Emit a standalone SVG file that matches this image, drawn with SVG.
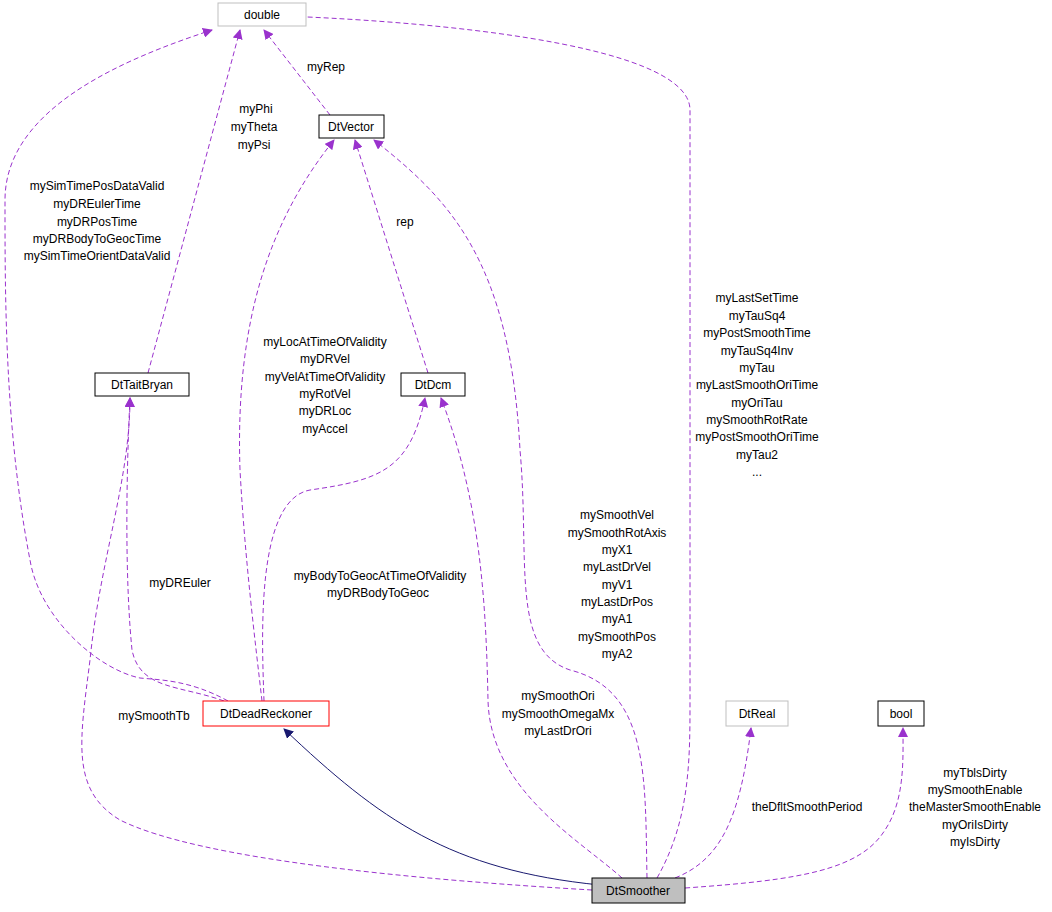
<svg xmlns="http://www.w3.org/2000/svg" width="1052" height="912" viewBox="0 0 1052 912">
<style>
text{font-family:"Liberation Sans",Arial,sans-serif;font-size:12px;fill:#000;text-anchor:middle}
.n{fill:#fff;stroke:#000;stroke-width:1}
.g{fill:#fff;stroke:#bfbfbf;stroke-width:1}
.e{fill:none;stroke:#9a32cd;stroke-width:1;stroke-dasharray:5,3;marker-end:url(#p)}
.s{fill:none;stroke:#191970;stroke-width:1;marker-end:url(#b)}
</style>
<defs>
<marker id="p" viewBox="0 0 10 10" refX="9" refY="5" markerWidth="10" markerHeight="10" markerUnits="userSpaceOnUse" orient="auto"><path d="M0,0L10,5L0,10z" fill="#9a32cd"/></marker>
<marker id="b" viewBox="0 0 10 10" refX="9" refY="5" markerWidth="10" markerHeight="10" markerUnits="userSpaceOnUse" orient="auto"><path d="M0,0L10,5L0,10z" fill="#191970"/></marker>
</defs>
<rect width="1052" height="912" fill="#fff"/>
<g id="edges">
<path class="e" d="M330,115 L264,30"/>
<text x="326" y="71">myRep</text>
<path class="e" d="M148,373 L240,30"/>
<text x="256" y="113">myPhi</text><text x="254" y="131">myTheta</text><text x="254" y="149">myPsi</text>
<path class="e" d="M228,701 C190,680 160,680 140,678 C100,670 40,620 30,560 C5,430 5,300 5,200 C5,110 120,60 212,30"/>
<text x="97" y="190">mySimTimePosDataValid</text><text x="97" y="208">myDREulerTime</text><text x="97" y="226">myDRPosTime</text><text x="97" y="243">myDRBodyToGeocTime</text><text x="97" y="260">mySimTimeOrientDataValid</text>
<path class="e" d="M428,373 L355,140"/>
<text x="405" y="226">rep</text>
<path class="e" d="M262,701 C255,640 245,560 240,470 C235,320 270,220 334,140"/>
<text x="325" y="346">myLocAtTimeOfValidity</text><text x="325" y="363">myDRVel</text><text x="325" y="381">myVelAtTimeOfValidity</text><text x="325" y="398">myRotVel</text><text x="325" y="415">myDRLoc</text><text x="325" y="433">myAccel</text>
<path class="e" d="M224,701 C180,685 140,690 132,650 C125,580 126,480 130,398"/>
<text x="180" y="587">myDREuler</text>
<path class="e" d="M264,701 C262,640 255,500 310,490 C380,480 410,470 425,398"/>
<text x="380" y="580">myBodyToGeocAtTimeOfValidity</text><text x="378" y="597">myDRBodyToGeoc</text>
<path class="s" d="M600,885 C450,870 380,820 284,729"/>
<path class="e" d="M592,890 C420,880 200,860 120,820 C70,790 80,740 90,660 C100,560 130,480 130,398"/>
<text x="154" y="720">mySmoothTb</text>
<path class="e" d="M622,878 C580,840 490,790 488,700 C486,600 480,500 441,398"/>
<text x="558" y="700">mySmoothOri</text><text x="558" y="718">mySmoothOmegaMx</text><text x="558" y="735">myLastDrOri</text>
<path class="e" d="M647,878 C645,780 650,690 570,670 C510,650 530,560 520,450 C510,260 450,200 374,140"/>
<text x="617" y="519">mySmoothVel</text><text x="617" y="537">mySmoothRotAxis</text><text x="617" y="554">myX1</text><text x="617" y="571">myLastDrVel</text><text x="617" y="589">myV1</text><text x="617" y="606">myLastDrPos</text><text x="617" y="623">myA1</text><text x="617" y="641">mySmoothPos</text><text x="617" y="658">myA2</text>
<path class="e" d="M657,878 C690,820 690,760 690,700 C690,500 690,300 690,110 C690,40 400,20 282,16"/>
<text x="757" y="302">myLastSetTime</text><text x="757" y="320">myTauSq4</text><text x="757" y="337">myPostSmoothTime</text><text x="757" y="355">myTauSq4Inv</text><text x="757" y="372">myTau</text><text x="757" y="389">myLastSmoothOriTime</text><text x="757" y="407">myOriTau</text><text x="757" y="424">mySmoothRotRate</text><text x="757" y="441">myPostSmoothOriTime</text><text x="757" y="459">myTau2</text><text x="757" y="476">...</text>
<path class="e" d="M675,878 C720,860 740,820 751,728"/>
<text x="807" y="811">theDfltSmoothPeriod</text>
<path class="e" d="M685,888 C800,880 860,870 885,830 C905,800 903,760 903,728"/>
<text x="975" y="777">myTblsDirty</text><text x="975" y="794">mySmoothEnable</text><text x="975" y="811">theMasterSmoothEnable</text><text x="975" y="829">myOriIsDirty</text><text x="975" y="846">myIsDirty</text>
</g>
<g id="double"><rect class="g" x="218" y="3" width="88" height="23"/><text x="262" y="19">double</text></g>
<g id="DtVector"><rect class="n" x="319" y="115" width="65" height="23"/><text x="351" y="131">DtVector</text></g>
<g id="DtTaitBryan"><rect class="n" x="95" y="373" width="94" height="23"/><text x="142" y="389">DtTaitBryan</text></g>
<g id="DtDcm"><rect class="n" x="401" y="373" width="64" height="23"/><text x="433" y="389">DtDcm</text></g>
<g id="DtDeadReckoner"><rect x="203" y="701" width="126" height="25" fill="#fff" stroke="#ff0000"/><text x="266" y="718">DtDeadReckoner</text></g>
<g id="DtReal"><rect class="g" x="726" y="701" width="62" height="25"/><text x="757" y="718">DtReal</text></g>
<g id="bool"><rect class="n" x="878" y="701" width="46" height="25"/><text x="901" y="718">bool</text></g>
<g id="DtSmoother"><rect x="592" y="878" width="93" height="25" fill="#bfbfbf" stroke="#000"/><text x="638" y="895">DtSmoother</text></g>
</svg>
